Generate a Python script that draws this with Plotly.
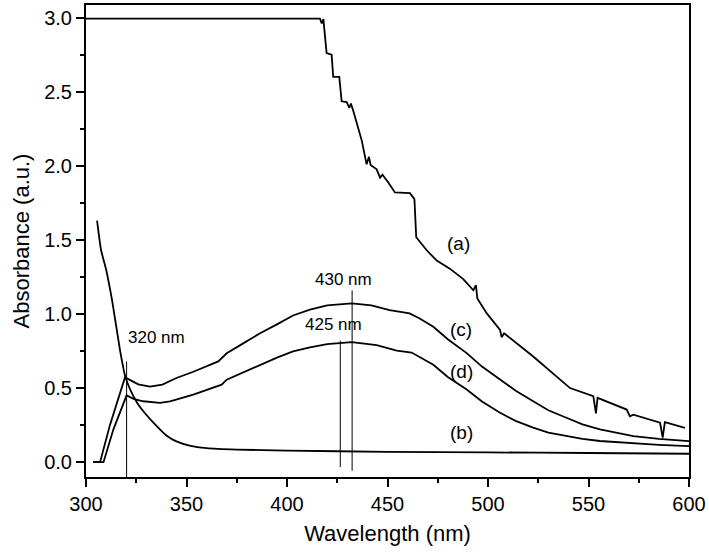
import plotly.graph_objects as go

# ---- data ----
wl_a = [300, 416.4, 417.3, 418.1, 419.7, 422.2, 423.0, 426.0, 427.2, 429.7, 431.0, 431.8, 433.0,
        437.2, 439.6, 440.8, 441.6, 444.6, 446.3, 447.5, 450.4, 453.7, 461.2, 463.4, 464.3, 469.5,
        474.5, 481.0, 487.7, 492.7, 494.0, 494.7, 499.4, 506.0, 506.8, 508.0, 522.5, 532.5, 540.8,
        552.4, 553.7, 554.5, 569.0, 570.6, 572.3, 585.6, 586.9, 588.0, 598.0]
abs_a = [2.993, 2.993, 2.96, 2.99, 2.76, 2.75, 2.60, 2.60, 2.435, 2.43, 2.39, 2.42, 2.37,
         2.17, 2.01, 2.06, 2.005, 1.976, 1.92, 1.94, 1.887, 1.82, 1.815, 1.775, 1.518, 1.43,
         1.36, 1.306, 1.235, 1.16, 1.194, 1.105, 1.004, 0.892, 0.843, 0.87, 0.713, 0.60, 0.50,
         0.445, 0.329, 0.434, 0.355, 0.31, 0.32, 0.266, 0.166, 0.27, 0.232]

wl_b = [305.5, 307.5, 310, 313, 317, 319.5, 322, 325.5, 330, 334, 340, 345, 352, 360, 375,
        400, 450, 500, 550, 600]
abs_b = [1.63, 1.43, 1.30, 1.09, 0.75, 0.58, 0.49, 0.40, 0.32, 0.26, 0.18, 0.14, 0.11, 0.095,
         0.085, 0.078, 0.070, 0.066, 0.062, 0.057]

wl_c = [303.6, 307.0, 311.9, 319.4, 322.5, 326.0, 331.8, 338.0, 345.0, 353.4, 365.8, 370.0, 378.0,
        386.6, 395.0, 403.0, 411.4, 420.0, 432.2, 442.0, 451.0, 461.0, 466.0, 472.8, 480.0, 489.4,
        497.0, 506.0, 514.0, 522.5, 530.0, 539.0, 547.0, 555.7, 572.3, 585.0, 600]
abs_c = [0.0, 0.0, 0.25, 0.572, 0.55, 0.525, 0.51, 0.523, 0.568, 0.61, 0.68, 0.735, 0.80,
         0.87, 0.93, 0.99, 1.03, 1.058, 1.071, 1.058, 1.026, 1.004, 0.97, 0.914, 0.83, 0.736,
         0.645, 0.557, 0.48, 0.411, 0.35, 0.30, 0.255, 0.221, 0.176, 0.157, 0.142]

wl_d = [303.6, 308.7, 313.6, 320.2, 324.0, 328.5, 336.8, 341.8, 353.4, 367.5, 370.0, 378.0,
        386.6, 395.0, 403.0, 411.4, 420.0, 432.2, 444.6, 454.6, 462.0, 467.0, 472.8, 480.0,
        489.4, 497.0, 506.0, 514.0, 522.5, 530.0, 539.0, 547.0, 555.7, 572.3, 585.0, 600]
abs_d = [0.0, 0.0, 0.22, 0.451, 0.425, 0.411, 0.40, 0.41, 0.456, 0.523, 0.557, 0.605,
         0.657, 0.705, 0.747, 0.775, 0.797, 0.81, 0.79, 0.753, 0.74, 0.70, 0.657, 0.575,
         0.49, 0.41, 0.333, 0.277, 0.233, 0.2, 0.176, 0.158, 0.143, 0.127, 0.117, 0.108]

marker_wl = [320.2, 426.5, 432.4]
marker_top = [0.68, 0.82, 1.16]
marker_bottom = [-0.1, -0.033, -0.058]

curve_labels = ["(a)", "(c)", "(d)", "(b)"]
curve_label_wl = [485.2, 486.6, 487.0, 487.0]
curve_label_abs = [1.473, 0.892, 0.61, 0.20]

peak_labels = ["320 nm", "425 nm", "430 nm"]
peak_label_wl = [335.2, 422.9, 427.9]
peak_label_abs = [0.843, 0.926, 1.234]

FONT = "Liberation Sans, Arial, sans-serif"

fig = go.Figure()
for xs, ys in [(wl_a, abs_a), (wl_c, abs_c), (wl_d, abs_d)]:
    fig.add_trace(go.Scatter(x=xs, y=ys, mode="lines",
                             line=dict(color="black", width=1.8), showlegend=False))
fig.add_trace(go.Scatter(x=wl_b, y=abs_b, mode="lines",
                         line=dict(color="black", width=1.8, shape="spline", smoothing=0.5),
                         showlegend=False))

vx, vy = [], []
for w, t, b in zip(marker_wl, marker_top, marker_bottom):
    vx += [w, w, None]
    vy += [b, t, None]
fig.add_trace(go.Scatter(x=vx, y=vy, mode="lines",
                         line=dict(color="black", width=1), showlegend=False))

for txt, x, y in zip(curve_labels, curve_label_wl, curve_label_abs):
    fig.add_annotation(x=x, y=y, text=txt, showarrow=False,
                       font=dict(family=FONT, size=19, color="black"))
for txt, x, y in zip(peak_labels, peak_label_wl, peak_label_abs):
    fig.add_annotation(x=x, y=y, text=txt, showarrow=False,
                       font=dict(family=FONT, size=17, color="black"))

fig.update_layout(
    width=709, height=554,
    margin=dict(l=86, r=20, t=3, b=77),
    paper_bgcolor="white", plot_bgcolor="white",
    font=dict(family=FONT, color="black"),
)
fig.update_xaxes(
    range=[300, 600], showgrid=False, zeroline=False,
    showline=True, linecolor="black", linewidth=2, mirror=True,
    ticks="outside", ticklen=8, tickwidth=1.5, tickcolor="black",
    dtick=50, tick0=300,
    minor=dict(ticks="outside", ticklen=4, tickwidth=1.5, tickcolor="black", dtick=25, showgrid=False),
    tickfont=dict(size=20, family=FONT, color="black"),
    title=dict(text="Wavelength (nm)", font=dict(size=22, family=FONT, color="black"), standoff=12),
)
fig.update_yaxes(
    range=[-0.1, 3.085], showgrid=False, zeroline=False,
    showline=True, linecolor="black", linewidth=2, mirror=True,
    ticks="outside", ticklen=8, tickwidth=1.5, tickcolor="black",
    dtick=0.5, tick0=0, tickformat=".1f",
    minor=dict(ticks="outside", ticklen=4, tickwidth=1.5, tickcolor="black", dtick=0.25, showgrid=False),
    tickfont=dict(size=20, family=FONT, color="black"),
    title=dict(text="Absorbance (a.u.)", font=dict(size=22, family=FONT, color="black"), standoff=8),
)

fig.write_html("out.html", config={"displayModeBar": False},
               post_script="document.body.style.margin='0';document.body.style.overflow='hidden';")
